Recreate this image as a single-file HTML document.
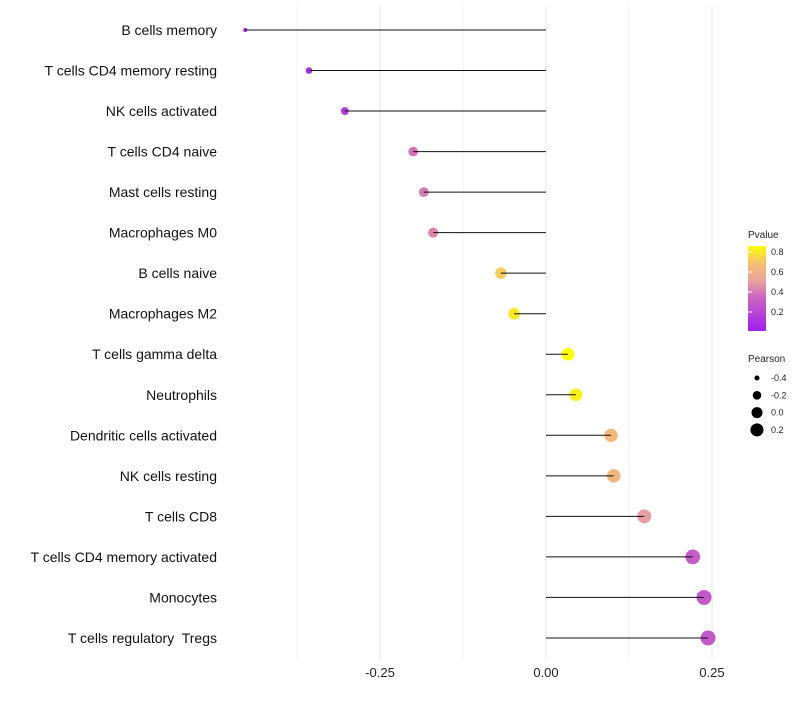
<!DOCTYPE html>
<html><head><meta charset="utf-8"><style>
body{margin:0;background:#fff;font-family:"Liberation Sans",Arial,sans-serif}
text{white-space:pre}
</style></head><body>
<svg id="chart" width="800" height="700" xmlns="http://www.w3.org/2000/svg">
<defs><linearGradient id="pg" x1="0" y1="1" x2="0" y2="0">
<stop offset="0" stop-color="#a020f0"/><stop offset="0.4" stop-color="#cc66c0"/><stop offset="0.58" stop-color="#e8a0a0"/><stop offset="0.8" stop-color="#f5c070"/><stop offset="1" stop-color="#ffff00"/>
</linearGradient></defs>
<g id="grid"></g><g id="points"></g><g id="marks"></g><g id="labels"></g>
<g font-size="10" fill="#222">
<text x="748" y="238">Pvalue</text>
<rect x="748" y="246" width="18" height="85" fill="url(#pg)"/>
<g id="cbticks"></g>
<text x="748" y="362">Pearson</text>
<g id="sizeleg"></g>
</g>
</svg>
<script>
const categories=["B cells memory","T cells CD4 memory resting","NK cells activated","T cells CD4 naive","Mast cells resting","Macrophages M0","B cells naive","Macrophages M2","T cells gamma delta","Neutrophils","Dendritic cells activated","NK cells resting","T cells CD8","T cells CD4 memory activated","Monocytes","T cells regulatory  Tregs"];
const pearson=[-0.453,-0.357,-0.303,-0.200,-0.184,-0.170,-0.068,-0.048,0.033,0.045,0.098,0.102,0.148,0.221,0.238,0.244];
const pvalue=[0.03,0.08,0.12,0.38,0.40,0.43,0.72,0.8,0.86,0.82,0.65,0.63,0.5,0.3,0.28,0.28];
const xTicks=[-0.25,0,0.25];
const xTickLabels=["-0.25","0.00","0.25"];
const xMinor=[-0.375,-0.125,0.125];
const cbTicks=[0.2,0.4,0.6,0.8];
const sizeLegend=[-0.4,-0.2,0.0,0.2];
const NS="http://www.w3.org/2000/svg";
const X=v=>546+v*664;
const Y=i=>30+i*40.53;
const R=v=>Math.sqrt(Math.max(1,4+74.6*(v+0.453)));
const stops=[[0,[160,32,240]],[0.4,[204,102,192]],[0.58,[232,160,160]],[0.8,[245,192,112]],[1,[255,255,0]]];
function col(p){let t=Math.min(1,Math.max(0,(p-0.01)/0.85));for(let k=1;k<stops.length;k++){if(t<=stops[k][0]){const a=stops[k-1],b=stops[k];const f=(t-a[0])/(b[0]-a[0]);const c=a[1].map((x,j)=>Math.round(x+(b[1][j]-x)*f));return`rgb(${c})`;}}return"rgb(255,255,0)";}
function mk(tag,at,parent){const e=document.createElementNS(NS,tag);for(const k in at)e.setAttribute(k,at[k]);document.getElementById(parent).appendChild(e);return e;}
xMinor.forEach(v=>{const l=mk("line",{x1:X(v),x2:X(v),y1:5,y2:660,stroke:"#f0f0f0","stroke-width":1},"grid");

});
xTicks.forEach((v,i)=>{const l=mk("line",{x1:X(v),x2:X(v),y1:5,y2:660,stroke:"#e8e8e8","stroke-width":1},"grid");


const t=mk("text",{x:X(v),y:677,"text-anchor":"middle","font-size":13,fill:"#222"},"grid");t.textContent=xTickLabels[i];

});
categories.forEach((c,i)=>{const y=Y(i);
const p=mk("circle",{cx:X(pearson[i]),cy:y,r:R(pearson[i]),fill:col(pvalue[i])},"points");


const l=mk("line",{x1:X(0),x2:X(pearson[i]),y1:y,y2:y,stroke:"#111","stroke-width":1},"marks");


const t=mk("text",{x:217,y:y+5,"text-anchor":"end","font-size":14,fill:"#111"},"labels");t.textContent=c;

});
cbTicks.forEach(v=>{const y=331-(v-0.01)/0.85*85;
const l=mk("line",{x1:748,x2:752,y1:y,y2:y,stroke:"#fff"},"cbticks");


const t=mk("text",{x:771,y:y+3,"font-size":9,fill:"#222"},"cbticks");t.textContent=v.toFixed(1);

});
sizeLegend.forEach((v,i)=>{const y=378+i*17.3;
const c=mk("circle",{cx:757,cy:y,r:R(v)*0.9,fill:"#000"},"sizeleg");


const t=mk("text",{x:771,y:y+3,"font-size":9,fill:"#222"},"sizeleg");t.textContent=v.toFixed(1);

});
</script>
</body></html>
